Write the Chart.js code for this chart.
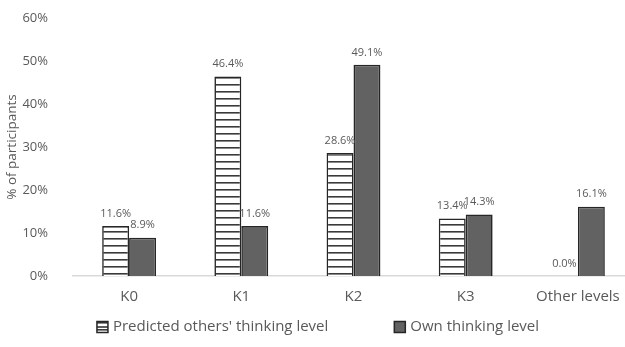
<!DOCTYPE html>
<html>
<head>
<meta charset="utf-8">
<script src="https://cdn.jsdelivr.net/npm/chart.js@4/dist/chart.umd.min.js"></script>
<style>
  html, body { margin: 0; padding: 0; background: #fff; overflow: hidden; }
  #wrap { width: 640px; height: 347px; position: relative; }
</style>
</head>
<body>
<div id="wrap"><canvas id="c" width="640" height="347"></canvas></div>
<script>
const categories = ['K0', 'K1', 'K2', 'K3', 'Other levels'];
const predictedOthers = [11.6, 46.4, 28.6, 13.4, 0.0];
const ownLevel = [8.9, 11.6, 49.1, 14.3, 16.1];
const seriesNames = ["Predicted others' thinking level", 'Own thinking level'];
const yTicks = [0, 10, 20, 30, 40, 50, 60];
const yTitle = '% of participants';

const FONT = "'Open Sans', 'Noto Sans', sans-serif";
const GREY = '#595959';

function hatchPattern() {
  const p = document.createElement('canvas');
  p.width = 8; p.height = 7;
  const g = p.getContext('2d');
  g.fillStyle = '#ffffff';
  g.fillRect(0, 0, 8, 7);
  g.fillStyle = '#3a3a3a';
  g.fillRect(0, 0, 8, 1.6);
  return document.getElementById('c').getContext('2d').createPattern(p, 'repeat');
}
const hatch = hatchPattern();

const dataLabels = {
  id: 'dataLabels',
  afterDatasetsDraw(chart) {
    const ctx = chart.ctx;
    ctx.save();
    ctx.font = '11px ' + FONT;
    ctx.fillStyle = GREY;
    ctx.textAlign = 'center';
    ctx.textBaseline = 'bottom';
    chart.data.datasets.forEach((ds, i) => {
      chart.getDatasetMeta(i).data.forEach((bar, j) => {
        ctx.fillText(ds.data[j].toFixed(1) + '%', bar.x, bar.y - 7);
      });
    });
    ctx.restore();
  }
};

const customLegend = {
  id: 'customLegend',
  afterDraw(chart) {
    const ctx = chart.ctx;
    ctx.save();
    ctx.font = '15px ' + FONT;
    ctx.textBaseline = 'middle';
    const gap = 66, box = 11, tgap = 5;
    const widths = seriesNames.map(n => box + tgap + ctx.measureText(n).width);
    const total = widths[0] + gap + widths[1];
    let x = 318 - total / 2;
    const y = 327;
    chart.data.datasets.forEach((ds, i) => {
      ctx.fillStyle = ds.backgroundColor;
      ctx.fillRect(x, y - box / 2, box, box);
      ctx.lineWidth = 1.5;
      ctx.strokeStyle = '#262626';
      ctx.strokeRect(x, y - box / 2, box, box);
      if (i === 0) {
        ctx.beginPath();
        ctx.moveTo(x, y); ctx.lineTo(x + box, y);
        ctx.stroke();
      }
      ctx.fillStyle = GREY;
      ctx.textAlign = 'left';
      ctx.fillText(seriesNames[i], x + box + tgap, y);
      x += widths[i] + gap;
    });
    ctx.restore();
  }
};

new Chart(document.getElementById('c'), {
  type: 'bar',
  data: {
    labels: categories,
    datasets: [
      { label: seriesNames[0], data: predictedOthers, backgroundColor: hatch, borderColor: '#262626', borderWidth: 1.6 },
      { label: seriesNames[1], data: ownLevel, backgroundColor: '#626262', borderColor: '#262626', borderWidth: 1.6 }
    ]
  },
  options: {
    responsive: false,
    animation: false,
    layout: { padding: { top: 18, right: 6, bottom: 29, left: 0 } },
    datasets: { bar: { barPercentage: 1, categoryPercentage: 0.48 } },
    plugins: { legend: { display: false }, tooltip: { enabled: false } },
    scales: {
      x: {
        grid: { display: false, drawTicks: false },
        border: { display: true, color: '#d9d9d9', width: 1.5 },
        ticks: { color: GREY, font: { family: FONT, size: 15 }, padding: 12 }
      },
      y: {
        min: 0, max: 60,
        afterFit(s) { s.width = 73; s.paddingTop = 7; s.paddingBottom = 7; },
        afterBuildTicks(s) { s.ticks = yTicks.map(v => ({ value: v })); },
        grid: { display: false, drawTicks: false },
        border: { display: false },
        ticks: { color: GREY, font: { family: FONT, size: 13 }, padding: 25, callback: v => v + '%' },
        title: { display: true, text: yTitle, color: GREY, font: { family: FONT, size: 13.5 }, padding: { top: 4, bottom: 0 } }
      }
    }
  },
  plugins: [dataLabels, customLegend]
});
</script>
</body>
</html>
